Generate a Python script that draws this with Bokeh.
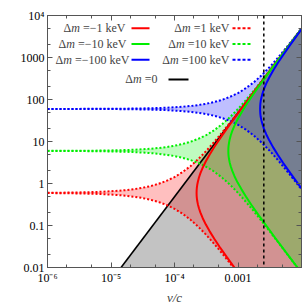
import numpy as np
from bokeh.plotting import figure
from bokeh.models import Range1d, LogAxis, FixedTicker, CustomJSTickFormatter, Label, Span
from bokeh.embed import file_html
from bokeh.resources import INLINE

# ---------------- data ----------------
delta_m = [1, 10, 100]                      # |Δm| in keV
colors = ["#ff0000", "#00ee00", "#0000ff"]
v_esc = 2.55e-3                              # dotted vertical line (v/c)

# elastic (Δm = 0) upper edge
elastic_v = [1.44e-05, 1e-2]
elastic_E = [0.01, 4810]

# exothermic (dashed) band edges, sampled at v/c
v_exo = [1e-06, 1.33e-06, 1.78e-06, 2.37e-06, 3.16e-06, 4.22e-06, 5.62e-06, 7.5e-06,
         1e-05, 1.33e-05, 1.78e-05, 2.37e-05, 3.16e-05, 4.22e-05, 5.62e-05, 7.5e-05,
         1e-04, 1.33e-04, 1.78e-04, 2.37e-04, 3.16e-04, 4.22e-04, 5.62e-04, 7.5e-04,
         1e-03, 1.33e-03, 1.78e-03, 2.37e-03, 3.16e-03, 4.22e-03, 5.62e-03, 7.5e-03, 1e-02]
exo1_lo = [0.591, 0.59, 0.587, 0.584, 0.58, 0.574, 0.567, 0.558, 0.545, 0.529, 0.509, 0.482, 0.45,
           0.409, 0.362, 0.308, 0.25, 0.192, 0.138, 0.0935, 0.0599, 0.0366, 0.0217, 0.0126, 0.00722,
           0.0041, 0.00232, 0.00131, 0.000738, 0.000415, 0.000234, 0.000131, 7.39e-05]
exo1_hi = [0.602, 0.604, 0.606, 0.61, 0.614, 0.62, 0.628, 0.638, 0.653, 0.673, 0.7, 0.738, 0.792,
           0.869, 0.984, 1.16, 1.42, 1.86, 2.58, 3.81, 5.95, 9.72, 16.4, 28.2, 49.3, 86.8, 153, 272,
           483, 857, 1520, 2710, 4810]
exo10_lo = [5.95, 5.94, 5.94, 5.93, 5.91, 5.9, 5.87, 5.84, 5.8, 5.74, 5.67, 5.58, 5.45, 5.29, 5.09,
            4.82, 4.5, 4.09, 3.62, 3.08, 2.5, 1.92, 1.38, 0.935, 0.599, 0.366, 0.217, 0.126, 0.0722,
            0.041, 0.0232, 0.0131, 0.00738]
exo10_hi = [5.98, 5.99, 6, 6.01, 6.02, 6.04, 6.06, 6.1, 6.14, 6.2, 6.28, 6.38, 6.53, 6.73, 7, 7.38,
            7.92, 8.69, 9.84, 11.6, 14.2, 18.6, 25.8, 38.1, 59.5, 97.2, 164, 282, 493, 868, 1530,
            2720, 4830]
exo100_lo = [59.6, 59.6, 59.6, 59.5, 59.5, 59.4, 59.4, 59.3, 59.1, 59, 58.7, 58.4, 58, 57.4, 56.7,
             55.8, 54.5, 52.9, 50.9, 48.2, 45, 40.9, 36.2, 30.8, 25, 19.2, 13.8, 9.35, 5.99, 3.66,
             2.17, 1.26, 0.722]
exo100_hi = [59.7, 59.7, 59.8, 59.8, 59.8, 59.9, 60, 60.1, 60.2, 60.4, 60.6, 61, 61.4, 62, 62.8,
             63.8, 65.3, 67.3, 70, 73.8, 79.2, 86.9, 98.4, 116, 142, 186, 258, 381, 595, 972, 1640,
             2820, 4930]

# endothermic (solid) curves: lower and upper branch at v/c
endo1_v = [2.227e-4, 2.233e-4, 2.249e-4, 2.282e-4, 2.338e-4, 2.427e-4, 2.561e-4, 2.784e-4,
           3.118e-4, 3.563e-4, 4.231e-4, 5.122e-4, 6.680e-4, 8.907e-4, 1.225e-3, 1.781e-3,
           2.450e-3, 3.563e-3, 5.122e-3, 7.348e-3, 1e-2]
endo1_lo = [0.597, 0.511, 0.45, 0.382, 0.318, 0.257, 0.202, 0.149, 0.105, 0.0735, 0.0483, 0.0312,
            0.0176, 0.00963, 0.00501, 0.00235, 0.00124, 0.000584, 0.000282, 0.000137, 7.4e-05]
endo1_hi = [0.597, 0.697, 0.792, 0.932, 1.12, 1.39, 1.76, 2.39, 3.38, 4.84, 7.37, 11.4, 20.3, 37,
            71, 152, 288, 610, 1260, 2600, 4810]
endo10_v = [0.000704, 0.000706, 0.000711, 0.000722, 0.000739, 0.000768, 0.00081, 0.00088,
            0.000986, 0.00113, 0.00134, 0.00162, 0.00211, 0.00282, 0.00387, 0.00563, 0.00775, 0.01]
endo10_lo = [5.97, 5.11, 4.5, 3.82, 3.18, 2.57, 2.02, 1.49, 1.05, 0.735, 0.483, 0.312, 0.176,
             0.0963, 0.0501, 0.0235, 0.0124, 0.00741]
endo10_hi = [5.97, 6.97, 7.92, 9.32, 11.2, 13.9, 17.6, 23.9, 33.8, 48.4, 73.7, 114, 203, 370, 710,
             1520, 2880, 4800]
endo100_v = [0.00223, 0.002237, 0.00225, 0.00228, 0.00234, 0.00243, 0.00256, 0.00278, 0.00312,
             0.00356, 0.00423, 0.00512, 0.00668, 0.00891, 0.01]
endo100_lo = [59.7, 51.1, 45, 38.2, 31.8, 25.7, 20.2, 14.9, 10.5, 7.35, 4.83, 3.12, 1.76, 0.963, 0.759]
endo100_hi = [59.7, 69.7, 79.2, 93.2, 112, 139, 176, 239, 338, 484, 737, 1140, 2030, 3700, 4690]

x_exps = [-6, -5, -4, -3]
x_labels = ["10⁻⁶", "10⁻⁵", "10⁻⁴", "0.001"]
y_exps = [-2, -1, 0, 1, 2, 3, 4]
y_labels = ["0.01", "0.1", "1", "10", "100", "1000", "10⁴"]

exo = [(exo1_lo, exo1_hi), (exo10_lo, exo10_hi), (exo100_lo, exo100_hi)]
endo = [(endo1_v, endo1_lo, endo1_hi), (endo10_v, endo10_lo, endo10_hi),
        (endo100_v, endo100_lo, endo100_hi)]

# ---------------- layout helpers (canvas pixel -> data) ----------------
WID, HEI = 305, 307
L, R, T, B = 47, 301, 15, 271
def X(px):
    return 10 ** (-6 + 4 * (px - L) / (R - L))
def Y(py):
    return 10 ** (4 - 6 * (py - T) / (B - T))

FONT = "Liberation Serif"
AX = "#555555"
NB = "\u00a0"
p = figure(width=WID, height=HEI, x_axis_type="log", y_axis_type="log",
           x_range=Range1d(1e-6, 1e-2), y_range=Range1d(1e-2, 1e4),
           output_backend="svg", toolbar_location=None,
           min_border_left=L, min_border_right=WID - R, min_border_top=T, min_border_bottom=HEI - B)
p.grid.visible = False
p.outline_line_color = AX

# fills
p.varea(x=elastic_v, y1=[1e-3, 1e-3], y2=elastic_E, fill_color="#c3c3c3")
for (lo, hi), c in zip(exo, colors):
    p.varea(x=v_exo, y1=lo, y2=hi, fill_color=c, fill_alpha=0.25)

# lines
p.line(elastic_v, elastic_E, line_color="black", line_width=1.6)
for (lo, hi), c in zip(exo, colors):
    p.line(v_exo, lo, line_color=c, line_width=2, line_dash="2 2")
    p.line(v_exo, hi, line_color=c, line_width=2, line_dash="2 2")
for (v, lo, hi), c in zip(endo, colors):
    p.line(v[::-1] + v, lo[::-1] + hi, line_color=c, line_width=2)
p.add_layout(Span(location=v_esc, dimension="height", line_color="black",
                  line_dash="3 3", line_width=1.5))

# axes
def style(ax):
    ax.major_tick_in = 5
    ax.major_tick_out = 0
    ax.minor_tick_in = 3
    ax.minor_tick_out = 0
    ax.axis_line_color = AX
    ax.major_tick_line_color = AX
    ax.minor_tick_line_color = AX
    ax.major_label_text_font = FONT
    ax.major_label_text_font_size = "12px"
    ax.major_label_text_color = "black"
    ax.major_label_standoff = 3

xt = FixedTicker(ticks=[10.0 ** e for e in range(-6, -1)],
                 minor_ticks=[m * 10.0 ** e for e in range(-6, -2) for m in (2, 5)])
yt = FixedTicker(ticks=[10.0 ** e for e in range(-2, 5)],
                 minor_ticks=[m * 10.0 ** e for e in range(-2, 4) for m in (2, 5)])
code = "const e=Math.round(Math.log10(tick)); const i=exps.indexOf(e); return i<0 ? '' : labels[i];"
p.xaxis.ticker = xt
p.yaxis.ticker = yt
p.xaxis.formatter = CustomJSTickFormatter(args=dict(exps=x_exps, labels=x_labels), code=code)
p.yaxis.formatter = CustomJSTickFormatter(args=dict(exps=y_exps, labels=y_labels), code=code)
style(p.xaxis[0])
style(p.yaxis[0])
p.xaxis.axis_label = "v/c"
p.xaxis.axis_label_text_font = FONT
p.xaxis.axis_label_text_font_style = "italic"
p.xaxis.axis_label_text_font_size = "13px"
p.xaxis.axis_label_standoff = 2
blank = CustomJSTickFormatter(code="return '';")
ra = LogAxis(ticker=yt, formatter=blank)
style(ra)
ra.major_label_standoff = 0
ta = LogAxis(ticker=xt, formatter=blank)
style(ta)
ta.major_label_standoff = 0
p.add_layout(ra, "right")
p.add_layout(ta, "above")

# y axis label  E_R [keV]
for txt, x, y, sz, st in (("E", 11, 169, "13px", "italic"), ("R", 14.5, 161, "9px", "italic"),
                          ("[keV]", 11, 153, "13px", "normal")):
    p.add_layout(Label(x=X(x), y=Y(y), text=txt, angle=np.pi / 2, text_font=FONT,
                       text_font_size=sz, text_font_style=st,
                       text_align="left", text_baseline="middle"))

# legend
W = {NB: .25, '=': .564, '−': .564, 'k': .5, 'e': .444, 'V': .722, 'Δ': .612, 'm': .722}
def width(s, size):
    return sum(W.get(ch, .5) for ch in s) * size

def leg_text(trail, xend, y, size=12):
    wt = width(trail, size)
    wm = W['m'] * size
    for t, xe, st in ((trail, xend, "normal"), ("m", xend - wt, "italic"),
                      ("Δ", xend - wt - wm, "normal")):
        p.add_layout(Label(x=X(xe), y=Y(y), text=t, text_font=FONT, text_font_size="%dpx" % size,
                           text_font_style=st, text_align="right", text_baseline="middle"))

rows = [28, 44, 60]
for i, (d, c) in enumerate(zip(delta_m, colors)):
    leg_text(NB + "=−%d" % d + NB + "keV", [125, 126, 129][i], rows[i])
    p.line([X(131), X(149)], [Y(rows[i])] * 2, line_color=c, line_width=2)
    leg_text(NB + "=%d" % d + NB + "keV", 229, rows[i])
    p.line([X(232), X(252)], [Y(rows[i])] * 2, line_color=c, line_width=2, line_dash="3 2")
leg_text(NB + "=0", 157, 80)
p.line([X(168), X(188)], [Y(80)] * 2, line_color="black", line_width=2)

open("out.html", "w").write(file_html(p, INLINE))
